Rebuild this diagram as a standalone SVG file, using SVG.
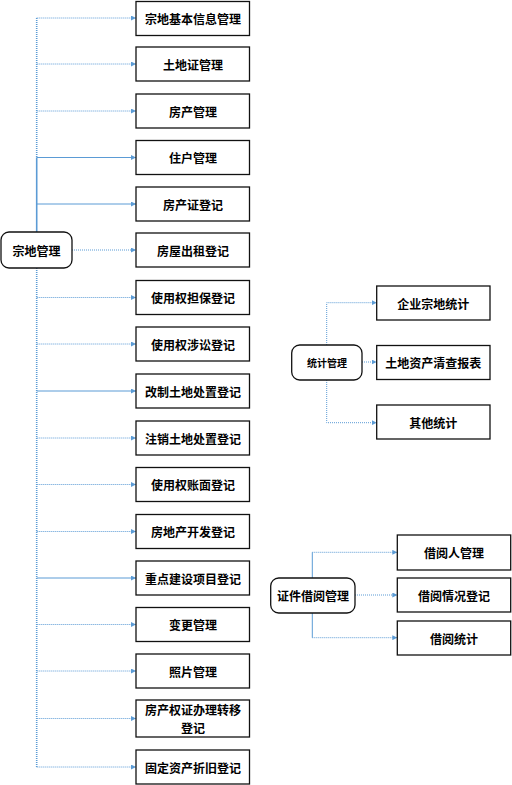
<svg xmlns="http://www.w3.org/2000/svg" width="512" height="785" viewBox="0 0 512 785">
<defs>
<style>
.box{fill:#fff;stroke:#111;stroke-width:1.3}
.t{font-family:"Noto Sans CJK SC","Liberation Sans",sans-serif;font-size:12px;font-weight:bold;fill:#000;text-anchor:middle;dominant-baseline:central}
.ts{font-size:10px}
.c{fill:none;stroke:#5B9BD5;stroke-width:1}
.d{stroke-dasharray:1 1}
.tr{stroke-width:1.6}
</style>
<marker id="a" viewBox="0 0 6 6" refX="6" refY="3" markerWidth="5" markerHeight="5" markerUnits="userSpaceOnUse" orient="auto"><path d="M0,0L6,3L0,6z" fill="#5B9BD5"/></marker>
</defs>
<g id="connectors">
<path class="c d tr" d="M36.7,18V157.5"/>
<path class="c tr" d="M36.7,157.5V232"/>
<path class="c d tr" d="M36.7,268V767"/>
<path class="c d" d="M36.7,18H136" marker-end="url(#a)"/>
<path class="c d" d="M36.7,64H136" marker-end="url(#a)"/>
<path class="c d" d="M36.7,111H136" marker-end="url(#a)"/>
<path class="c" d="M36.7,157.5H136" marker-end="url(#a)"/>
<path class="c" d="M36.7,204H136" marker-end="url(#a)"/>
<path class="c d" d="M72,250H136" marker-end="url(#a)"/>
<path class="c d" d="M36.7,297.5H136" marker-end="url(#a)"/>
<path class="c d" d="M36.7,344H136" marker-end="url(#a)"/>
<path class="c" d="M36.7,391H136" marker-end="url(#a)"/>
<path class="c d" d="M36.7,438H136" marker-end="url(#a)"/>
<path class="c d" d="M36.7,484.5H136" marker-end="url(#a)"/>
<path class="c d" d="M36.7,531.5H136" marker-end="url(#a)"/>
<path class="c" d="M36.7,578H136" marker-end="url(#a)"/>
<path class="c d" d="M36.7,624.5H136" marker-end="url(#a)"/>
<path class="c d" d="M36.7,671H136" marker-end="url(#a)"/>
<path class="c d" d="M36.7,718.5H136" marker-end="url(#a)"/>
<path class="c d" d="M36.7,767H136" marker-end="url(#a)"/>
<path class="c d" d="M326.7,345V302.7H376.7" marker-end="url(#a)"/>
<path class="c d" d="M362,362H376.7" marker-end="url(#a)"/>
<path class="c d" d="M326.7,380V422.7H376.7" marker-end="url(#a)"/>
<path class="c" d="M312.3,578V552.3"/>
<path class="c d" d="M312.3,552.3H397.3" marker-end="url(#a)"/>
<path class="c d" d="M355,595H397.3" marker-end="url(#a)"/>
<path class="c" d="M312.3,613V637.7"/>
<path class="c d" d="M312.3,637.7H397.3" marker-end="url(#a)"/>
</g>
<g id="n0"><rect class="box" x="1" y="232" width="71" height="36" rx="8"/><text class="t" x="36.5" y="250">宗地管理</text></g>
<g id="n1"><rect class="box" x="136" y="1.5" width="113.5" height="34"/><text class="t" x="193" y="18.5">宗地基本信息管理</text></g>
<g id="n2"><rect class="box" x="136" y="47" width="113.5" height="34"/><text class="t" x="193" y="64">土地证管理</text></g>
<g id="n3"><rect class="box" x="136" y="94" width="113.5" height="34"/><text class="t" x="193" y="111">房产管理</text></g>
<g id="n4"><rect class="box" x="136" y="140.5" width="113.5" height="34"/><text class="t" x="193" y="157.5">住户管理</text></g>
<g id="n5"><rect class="box" x="136" y="187" width="113.5" height="34"/><text class="t" x="193" y="204">房产证登记</text></g>
<g id="n6"><rect class="box" x="136" y="233" width="113.5" height="34"/><text class="t" x="193" y="250">房屋出租登记</text></g>
<g id="n7"><rect class="box" x="136" y="280.5" width="113.5" height="34"/><text class="t" x="193" y="297.5">使用权担保登记</text></g>
<g id="n8"><rect class="box" x="136" y="327" width="113.5" height="34"/><text class="t" x="193" y="344">使用权涉讼登记</text></g>
<g id="n9"><rect class="box" x="136" y="374" width="113.5" height="34"/><text class="t" x="193" y="391">改制土地处置登记</text></g>
<g id="n10"><rect class="box" x="136" y="421" width="113.5" height="34"/><text class="t" x="193" y="438">注销土地处置登记</text></g>
<g id="n11"><rect class="box" x="136" y="467.5" width="113.5" height="34"/><text class="t" x="193" y="484.5">使用权账面登记</text></g>
<g id="n12"><rect class="box" x="136" y="514.5" width="113.5" height="34"/><text class="t" x="193" y="531.5">房地产开发登记</text></g>
<g id="n13"><rect class="box" x="136" y="561" width="113.5" height="34"/><text class="t" x="193" y="578">重点建设项目登记</text></g>
<g id="n14"><rect class="box" x="136" y="607.5" width="113.5" height="34"/><text class="t" x="193" y="624.5">变更管理</text></g>
<g id="n15"><rect class="box" x="136" y="654" width="113.5" height="34"/><text class="t" x="193" y="671">照片管理</text></g>
<g id="n16"><rect class="box" x="136" y="700" width="113.5" height="37"/><text class="t" x="193" y="709.5">房产权证办理转移</text><text class="t" x="193" y="727">登记</text></g>
<g id="n17"><rect class="box" x="136" y="750" width="113.5" height="34"/><text class="t" x="193" y="767">固定资产折旧登记</text></g>
<g id="s0"><rect class="box" x="291.7" y="345" width="70.3" height="35" rx="8"/><text class="t ts" x="327" y="362.5">统计管理</text></g>
<g id="s1"><rect class="box" x="376.7" y="286" width="113.3" height="34"/><text class="t" x="433.3" y="303">企业宗地统计</text></g>
<g id="s2"><rect class="box" x="376.7" y="345.5" width="113.3" height="34"/><text class="t" x="433.3" y="362.5">土地资产清查报表</text></g>
<g id="s3"><rect class="box" x="376.7" y="405" width="113.3" height="34"/><text class="t" x="433.3" y="422">其他统计</text></g>
<g id="b0"><rect class="box" x="270.7" y="578" width="84.3" height="35" rx="8"/><text class="t" x="313" y="595.5">证件借阅管理</text></g>
<g id="b1"><rect class="box" x="397.3" y="535" width="113.4" height="35"/><text class="t" x="454" y="552.5">借阅人管理</text></g>
<g id="b2"><rect class="box" x="397.3" y="578" width="113.4" height="34"/><text class="t" x="454" y="595">借阅情况登记</text></g>
<g id="b3"><rect class="box" x="397.3" y="621" width="113.4" height="34"/><text class="t" x="454" y="638">借阅统计</text></g>
</svg>
